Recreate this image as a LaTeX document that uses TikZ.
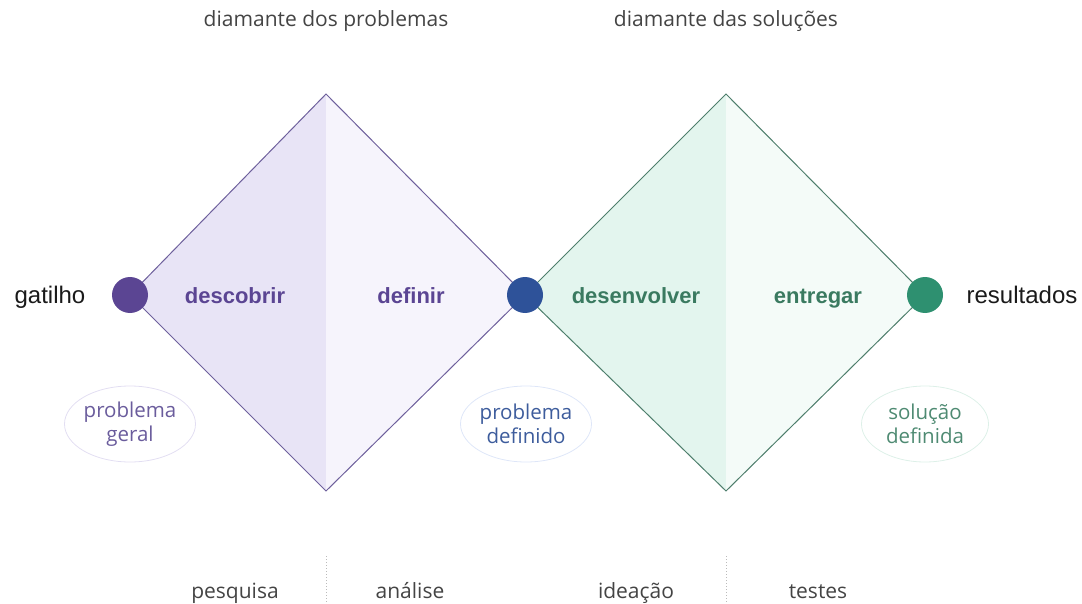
\documentclass[tikz,border=0pt]{standalone}
\usepackage{fontspec}
\setmainfont{Open Sans}
\newfontfamily\labelfont{Liberation Sans}
\usetikzlibrary{positioning,shapes.geometric}
\definecolor{ink}{HTML}{1A1A1A}
\definecolor{graytext}{HTML}{444444}
\definecolor{purple}{HTML}{5B4593}
\definecolor{purpleline}{HTML}{6E609C}
\definecolor{purpleA}{HTML}{E8E4F6}
\definecolor{purpleB}{HTML}{F6F4FC}
\definecolor{purplesoft}{HTML}{6A5C9C}
\definecolor{purplering}{HTML}{E2DEF2}
\definecolor{blue}{HTML}{2E5299}
\definecolor{bluesoft}{HTML}{3D5C9C}
\definecolor{bluering}{HTML}{DEE6F8}
\definecolor{green}{HTML}{2E9070}
\definecolor{greenline}{HTML}{4E7E6C}
\definecolor{greentext}{HTML}{3A7A60}
\definecolor{greenA}{HTML}{E3F5EE}
\definecolor{greenB}{HTML}{F4FBF8}
\definecolor{greensoft}{HTML}{4E8A72}
\definecolor{greenring}{HTML}{DDF0E8}
\definecolor{dotline}{HTML}{BBBBBB}
\tikzset{
  dot/.style={circle, inner sep=0pt, minimum size=36pt},
  endlabel/.style={text=ink, anchor=base, font=\labelfont\fontsize{24}{28}\selectfont},
  phase/.style={anchor=base, font=\labelfont\bfseries\fontsize{22}{26}\selectfont},
  toplabel/.style={text=graytext, anchor=base, font=\fontsize{21}{25}\selectfont},
  steplabel/.style={text=graytext, anchor=base, font=\fontsize{21}{25}\selectfont},
  stateellipse/.style={ellipse, draw, line width=0.8pt, minimum width=127pt, minimum height=76pt,
    inner sep=0pt, align=center, font=\fontsize{20.5}{24}\selectfont},
  edge/.style={line width=1pt}
}
\begin{document}
\begin{tikzpicture}[x=1pt,y=-1pt]
  \useasboundingbox (0,0) rectangle (1082,604);

  % diamond corners
  \coordinate (pTop) at (326,94);
  \coordinate (pBot) at (326,491);
  \coordinate (sTop) at (726,94);
  \coordinate (sBot) at (726,491);
  \coordinate (gPt) at (130,295);
  \coordinate (dPt) at (525,295);
  \coordinate (rPt) at (925,295);

  % fills
  \fill[purpleA] (gPt) -- (pTop) -- (pBot) -- cycle;
  \fill[purpleB] (pTop) -- (dPt) -- (pBot) -- cycle;
  \fill[greenA] (dPt) -- (sTop) -- (sBot) -- cycle;
  \fill[greenB] (sTop) -- (rPt) -- (sBot) -- cycle;

  % edges
  \draw[edge, purpleline] (gPt) -- (pTop) -- (dPt) -- (pBot) -- cycle;
  \draw[edge, greenline] (dPt) -- (sTop) -- (rPt) -- (sBot) -- cycle;

  % points
  \node[dot, fill=purple] (gatilho) at (gPt) {};
  \node[dot, fill=blue] (definido) at (dPt) {};
  \node[dot, fill=green] (resultado) at (rPt) {};

  \node[endlabel] (gLabel) at (50,303) {gatilho};
  \node[endlabel] (rLabel) at (1022,303) {resultados};

  \node[phase, text=purple] (descobrir) at (235,303) {descobrir};
  \node[phase, text=purple] (definir) at (411,303) {definir};
  \node[phase, text=greentext] (desenvolver) at (636,303) {desenvolver};
  \node[phase, text=greentext] (entregar) at (818,303) {entregar};

  % states
  \node[stateellipse, draw=purplering, text=purplesoft] (geral) at (130,424) {problema\\geral};
  \node[stateellipse, draw=bluering, text=bluesoft] (probdef) at (526,424) {problema\\definido};
  \node[stateellipse, draw=greenring, text=greensoft] (soldef) at (925,424) {solução\\definida};

  % headings
  \node[toplabel] (hProb) at (326,27) {diamante dos problemas};
  \node[toplabel] (hSol) at (726,27) {diamante das soluções};

  % steps
  \coordinate (sepA) at (326,556);
  \coordinate (sepAend) at (326,604);
  \coordinate (sepB) at (726,556);
  \coordinate (sepBend) at (726,604);
  \draw[dotline, dotted, line width=1pt] (sepA) -- (sepAend);
  \draw[dotline, dotted, line width=1pt] (sepB) -- (sepBend);

  \node[steplabel] (pesquisa) at (235,598) {pesquisa};
  \node[steplabel] (analise) at (410,598) {análise};
  \node[steplabel] (ideacao) at (636,598) {ideação};
  \node[steplabel] (testes) at (818,598) {testes};
\end{tikzpicture}
\end{document}
